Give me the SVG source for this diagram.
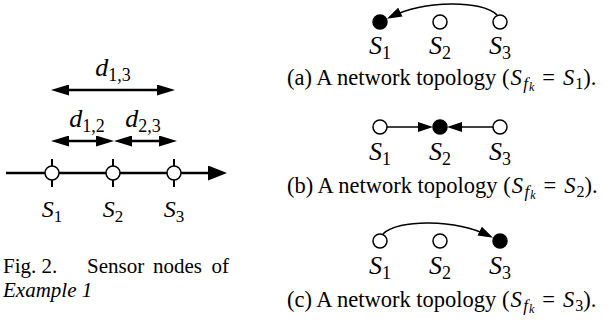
<svg xmlns="http://www.w3.org/2000/svg" width="610" height="328" viewBox="0 0 610 328">
<style>
text{font-family:"Liberation Serif","Times New Roman",serif;fill:#000}
.m{font-style:italic}
.lbl{font-size:24px}
.rl{font-size:26px}
.cap{font-size:21px}
.scap{font-size:22.5px}
.node{fill:#fff;stroke:#000;stroke-width:1.5}
.full{fill:#000;stroke:#000;stroke-width:1.5}
.tick{stroke:#000;stroke-width:2}
.thick{stroke:#000;stroke-width:2.4;fill:none}
.thin{stroke:#000;stroke-width:1.6;fill:none}
</style>
<defs>
<marker id="dh" markerUnits="userSpaceOnUse" markerWidth="18" markerHeight="11" viewBox="0 0 18 11" refX="12" refY="5.5" orient="auto-start-reverse"><path d="M0,0 L18,5.5 L0,11 z" fill="#000"/></marker>
<marker id="ah" markerUnits="userSpaceOnUse" markerWidth="19" markerHeight="15" viewBox="0 0 19 15" refX="13" refY="7.5" orient="auto"><path d="M0,0 L19,7.5 L0,15 z" fill="#000"/></marker>
<marker id="sh" markerUnits="userSpaceOnUse" markerWidth="15" markerHeight="10" viewBox="0 0 15 10" refX="11" refY="5" orient="auto"><path d="M0,0 L15,5 L0,10 z" fill="#000"/></marker>
</defs>

<g id="connectors">
<path class="thick" d="M57,90 H169" marker-start="url(#dh)" marker-end="url(#dh)"/>
<path class="thick" d="M57,141 H108" marker-start="url(#dh)" marker-end="url(#dh)"/>
<path class="thick" d="M120,141 H171" marker-start="url(#dh)" marker-end="url(#dh)"/>
<path class="thick" d="M6,173 H221" marker-end="url(#ah)"/>
<path class="tick" d="M52,159 V187 M113,159 V187 M174,159 V187"/>
<path class="thin" d="M497,15 C482,0 425,0 390.5,17" marker-end="url(#sh)"/>
<path class="thin" d="M387,127 H429" marker-end="url(#sh)"/>
<path class="thin" d="M493,127 H451" marker-end="url(#sh)"/>
<path class="thin" d="M383,234 C398,219 455,219 489.5,236" marker-end="url(#sh)"/>
</g>

<g id="left-labels">
<text font-size="26" x="113" y="76" text-anchor="middle"><tspan class="m">d</tspan><tspan font-size="18" dy="5">1,3</tspan></text>
<text font-size="26" x="87" y="127" text-anchor="middle"><tspan class="m">d</tspan><tspan font-size="18" dy="5">1,2</tspan></text>
<text font-size="26" x="143" y="127" text-anchor="middle"><tspan class="m">d</tspan><tspan font-size="18" dy="5">2,3</tspan></text>
</g>

<g id="L-S1"><circle class="node" cx="52" cy="173" r="7"/><text class="lbl" x="52" y="217" text-anchor="middle"><tspan class="m">S</tspan><tspan font-size="17" dy="5">1</tspan></text></g>
<g id="L-S2"><circle class="node" cx="113" cy="173" r="7"/><text class="lbl" x="113" y="217" text-anchor="middle"><tspan class="m">S</tspan><tspan font-size="17" dy="5">2</tspan></text></g>
<g id="L-S3"><circle class="node" cx="174" cy="173" r="7"/><text class="lbl" x="174" y="217" text-anchor="middle"><tspan class="m">S</tspan><tspan font-size="17" dy="5">3</tspan></text></g>

<g id="left-caption">
<text class="cap" y="273"><tspan x="3">Fig. 2.</tspan><tspan x="87">Sensor</tspan><tspan x="153">nodes</tspan></text>
<text class="cap" x="229" y="273" text-anchor="end">of</text>
<text class="cap m" x="3" y="297">Example 1</text>
</g>

<g id="a-S1"><circle class="full" cx="380" cy="22" r="7"/><text class="rl" x="380" y="54" text-anchor="middle"><tspan class="m">S</tspan><tspan font-size="18" dy="5">1</tspan></text></g>
<g id="a-S2"><circle class="node" cx="440" cy="22" r="7"/><text class="rl" x="440" y="54" text-anchor="middle"><tspan class="m">S</tspan><tspan font-size="18" dy="5">2</tspan></text></g>
<g id="a-S3"><circle class="node" cx="500" cy="22" r="7"/><text class="rl" x="500" y="54" text-anchor="middle"><tspan class="m">S</tspan><tspan font-size="18" dy="5">3</tspan></text></g>
<g id="a-caption"><text class="scap" x="287" y="85">(a) A network topology (<tspan class="m" dx="1">S</tspan><tspan class="m" font-size="17" dx="1.5" dy="4">f</tspan><tspan class="m" font-size="12" dx="1" dy="2">k</tspan><tspan dx="8" dy="-6">=</tspan><tspan class="m" dx="8">S</tspan><tspan font-size="16" dx="1" dy="4">1</tspan><tspan dy="-4">).</tspan></text></g>

<g id="b-S1"><circle class="node" cx="380" cy="127" r="7"/><text class="rl" x="380" y="160" text-anchor="middle"><tspan class="m">S</tspan><tspan font-size="18" dy="5">1</tspan></text></g>
<g id="b-S2"><circle class="full" cx="440" cy="127" r="7"/><text class="rl" x="440" y="160" text-anchor="middle"><tspan class="m">S</tspan><tspan font-size="18" dy="5">2</tspan></text></g>
<g id="b-S3"><circle class="node" cx="500" cy="127" r="7"/><text class="rl" x="500" y="160" text-anchor="middle"><tspan class="m">S</tspan><tspan font-size="18" dy="5">3</tspan></text></g>
<g id="b-caption"><text class="scap" x="287" y="193">(b) A network topology (<tspan class="m" dx="1">S</tspan><tspan class="m" font-size="17" dx="1.5" dy="4">f</tspan><tspan class="m" font-size="12" dx="1" dy="2">k</tspan><tspan dx="8" dy="-6">=</tspan><tspan class="m" dx="8">S</tspan><tspan font-size="16" dx="1" dy="4">2</tspan><tspan dy="-4">).</tspan></text></g>

<g id="c-S1"><circle class="node" cx="380" cy="241" r="7"/><text class="rl" x="380" y="274" text-anchor="middle"><tspan class="m">S</tspan><tspan font-size="18" dy="5">1</tspan></text></g>
<g id="c-S2"><circle class="node" cx="440" cy="241" r="7"/><text class="rl" x="440" y="274" text-anchor="middle"><tspan class="m">S</tspan><tspan font-size="18" dy="5">2</tspan></text></g>
<g id="c-S3"><circle class="full" cx="500" cy="241" r="7"/><text class="rl" x="500" y="274" text-anchor="middle"><tspan class="m">S</tspan><tspan font-size="18" dy="5">3</tspan></text></g>
<g id="c-caption"><text class="scap" x="287" y="307">(c) A network topology (<tspan class="m" dx="1">S</tspan><tspan class="m" font-size="17" dx="1.5" dy="4">f</tspan><tspan class="m" font-size="12" dx="1" dy="2">k</tspan><tspan dx="8" dy="-6">=</tspan><tspan class="m" dx="8">S</tspan><tspan font-size="16" dx="1" dy="4">3</tspan><tspan dy="-4">).</tspan></text></g>
</svg>
